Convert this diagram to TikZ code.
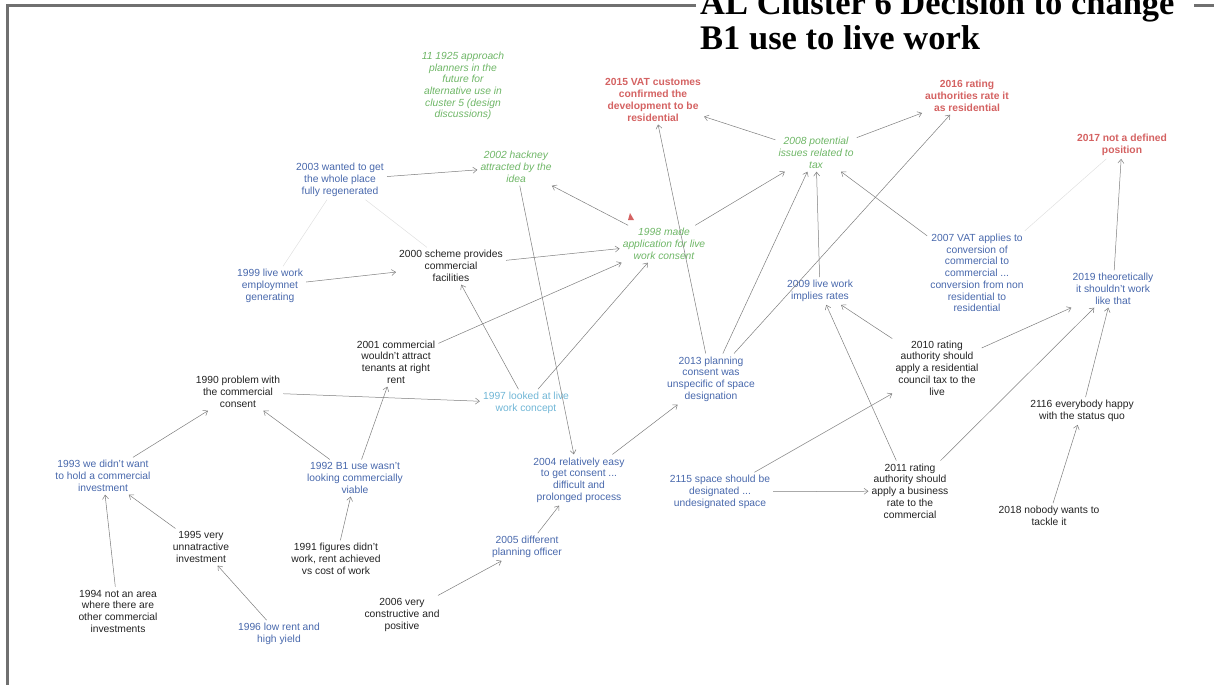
\documentclass[tikz,border=0pt]{standalone}
\usepackage{fontspec}
\setmainfont{Liberation Sans}
\newfontfamily\headfont{Liberation Serif}
\usetikzlibrary{arrows.meta}

\definecolor{ink}{RGB}{35,35,35}
\definecolor{mapblue}{RGB}{72,104,172}
\definecolor{skyblue}{RGB}{112,182,214}
\definecolor{mapgreen}{RGB}{110,182,102}
\definecolor{mapred}{RGB}{212,98,98}
\definecolor{linegrey}{RGB}{125,125,125}
\definecolor{framegrey}{RGB}{112,112,112}

\begin{document}
\begin{tikzpicture}[
  x=1pt, y=-1pt,
  font=\fontsize{10.3}{11.7}\selectfont,
  >={Straight Barb[length=4pt,width=6pt]},
  idea/.style={align=center, inner sep=3pt},
  blk/.style={idea, text=ink},
  blu/.style={idea, text=mapblue},
  sky/.style={idea, text=skyblue},
  grn/.style={idea, text=mapgreen, font=\fontsize{10.3}{11.7}\selectfont\itshape},
  hot/.style={idea, text=mapred, font=\fontsize{10.3}{11.7}\selectfont\bfseries},
  arr/.style={->, draw=linegrey, line width=0.5pt},
  faint/.style={draw=black!12, line width=0.5pt}
]
\useasboundingbox (0,0) rectangle (1214,685);

% frame and heading
\draw[framegrey, line width=3pt] (696,6) -- (7,6) -- (7,685);
\draw[framegrey, line width=3pt] (1194,6) -- (1214,6);
\node[anchor=base west, inner sep=0pt, font=\headfont\bfseries\fontsize{34.5}{34}\selectfont] (head1) at (700,15) {AL Cluster 6 Decision to change};
\node[anchor=base west, inner sep=0pt, font=\headfont\bfseries\fontsize{34.5}{34}\selectfont] (head2) at (700,49) {B1 use to live work};

% top row
\node[grn] (n1925) at (463,86) {11 1925 approach\\planners in the\\future for\\alternative use in\\cluster 5 (design\\discussions)};
\node[hot] (n2015) at (653,100) {2015 VAT customes\\confirmed the\\development to be\\residential};
\node[hot] (n2016) at (967,96) {2016 rating\\authorities rate it\\as residential};
\node[hot] (n2017) at (1122,145) {2017 not a defined\\position};
\node[grn] (n2008) at (816,153) {2008 potential\\issues related to\\tax};
\node[grn] (n2002) at (516,167) {2002 hackney\\attracted by the\\idea};
\node[blu] (n2003) at (340,180) {2003 wanted to get\\the whole place\\fully regenerated};

% middle
\node[grn] (n1998) at (664,244) {1998 made\\application for live\\work consent};
\node[blk] (n2000) at (451,266) {2000 scheme provides\\commercial\\facilities};
\node[blu] (n1999) at (270,286) {1999 live work\\employmnet\\generating};
\node[blu] (n2009) at (820,291) {2009 live work\\implies rates};
\node[blu] (n2007) at (977,273) {2007 VAT applies to\\conversion of\\commercial to\\commercial ...\\conversion from non\\residential to\\residential};
\node[blu] (n2019) at (1113,289) {2019 theoretically\\it shouldn't work\\like that};
\node[blk] (n2001) at (396,362) {2001 commercial\\wouldn't attract\\tenants at right\\rent};
\node[blk] (n1990) at (238,392) {1990 problem with\\the commercial\\consent};
\node[sky] (n1997) at (526,403) {1997 looked at live\\work concept};
\node[blu] (n2013) at (711,379) {2013 planning\\consent was\\unspecific of space\\designation};
\node[blk] (n2010) at (937,368) {2010 rating\\authority should\\apply a residential\\council tax to the\\live};
\node[blk] (n2116) at (1082,411) {2116 everybody happy\\with the status quo};

% lower rows
\node[blu] (n1993) at (103,476) {1993 we didn't want\\to hold a commercial\\investment};
\node[blu] (n1992) at (355,478) {1992 B1 use wasn't\\looking commercially\\viable};
\node[blu] (n2004) at (579,480) {2004 relatively easy\\to get consent ...\\difficult and\\prolonged process};
\node[blu] (n2115) at (720,492) {2115 space should be\\designated ...\\undesignated space};
\node[blk] (n2011) at (910,491) {2011 rating\\authority should\\apply a business\\rate to the\\commercial};
\node[blk] (n2018) at (1049,516) {2018 nobody wants to\\tackle it};
\node[blk] (n1995) at (201,547) {1995 very\\unnatractive\\investment};
\node[blk] (n1991) at (336,559) {1991 figures didn't\\work, rent achieved\\vs cost of work};
\node[blu] (n2005) at (527,547) {2005 different\\planning officer};
\node[blk] (n2006) at (402,615) {2006 very\\constructive and\\positive};
\node[blk] (n1994) at (118,611) {1994 not an area\\where there are\\other commercial\\investments};
\node[blu] (n1996) at (279,634) {1996 low rent and\\high yield};

% small red mark beside 1998
\fill[mapred] (628,220) -- (634,220) -- (630,213) -- cycle;

% links
\draw[arr] (n2003) -- (n2002);
\draw[faint] (n2003) -- (n1999);
\draw[faint] (n2003) -- (n2000);
\draw[arr] (n1999) -- (n2000);
\draw[arr] (n2000) -- (n1998);
\draw[arr] (n2001) -- (n1998);
\draw[arr] (n1997) -- (n2000);
\draw[arr] (n1997) -- (n1998);
\draw[arr] (n2002) -- (n2004);
\draw[arr] (n1998) -- (n2002);
\draw[arr] (n1998) -- (n2008);
\draw[arr] (n2013) -- (n2015);
\draw[arr] (n2008) -- (n2015);
\draw[arr] (n2008) -- (n2016);
\draw[arr] (n2013) -- (n2008);
\draw[arr] (n2009) -- (n2008);
\draw[arr] (n2007) -- (n2008);
\draw[arr] (n2013) -- (n2016);
\draw[arr] (n1990) -- (n1997);
\draw[arr] (n1992) -- (n1990);
\draw[arr] (n1992) -- (n2001);
\draw[arr] (n1993) -- (n1990);
\draw[arr] (n1994) -- (n1993);
\draw[arr] (n1995) -- (n1993);
\draw[arr] (n1996) -- (n1995);
\draw[arr] (n1991) -- (n1992);
\draw[arr] (n2004) -- (n2013);
\draw[arr] (n2005) -- (n2004);
\draw[arr] (n2006) -- (n2005);
\draw[arr] (n2115) -- (n2010);
\draw[arr] (n2115) -- (n2011);
\draw[arr] (n2010) -- (n2009);
\draw[arr] (n2011) -- (n2009);
\draw[arr] (n2010) -- (n2019);
\draw[arr] (n2011) -- (n2019);
\draw[arr] (n2116) -- (n2019);
\draw[arr] (n2018) -- (n2116);
\draw[arr] (n2019) -- (n2017);
\draw[faint] (n2007) -- (n2017);

\end{tikzpicture}
\end{document}
